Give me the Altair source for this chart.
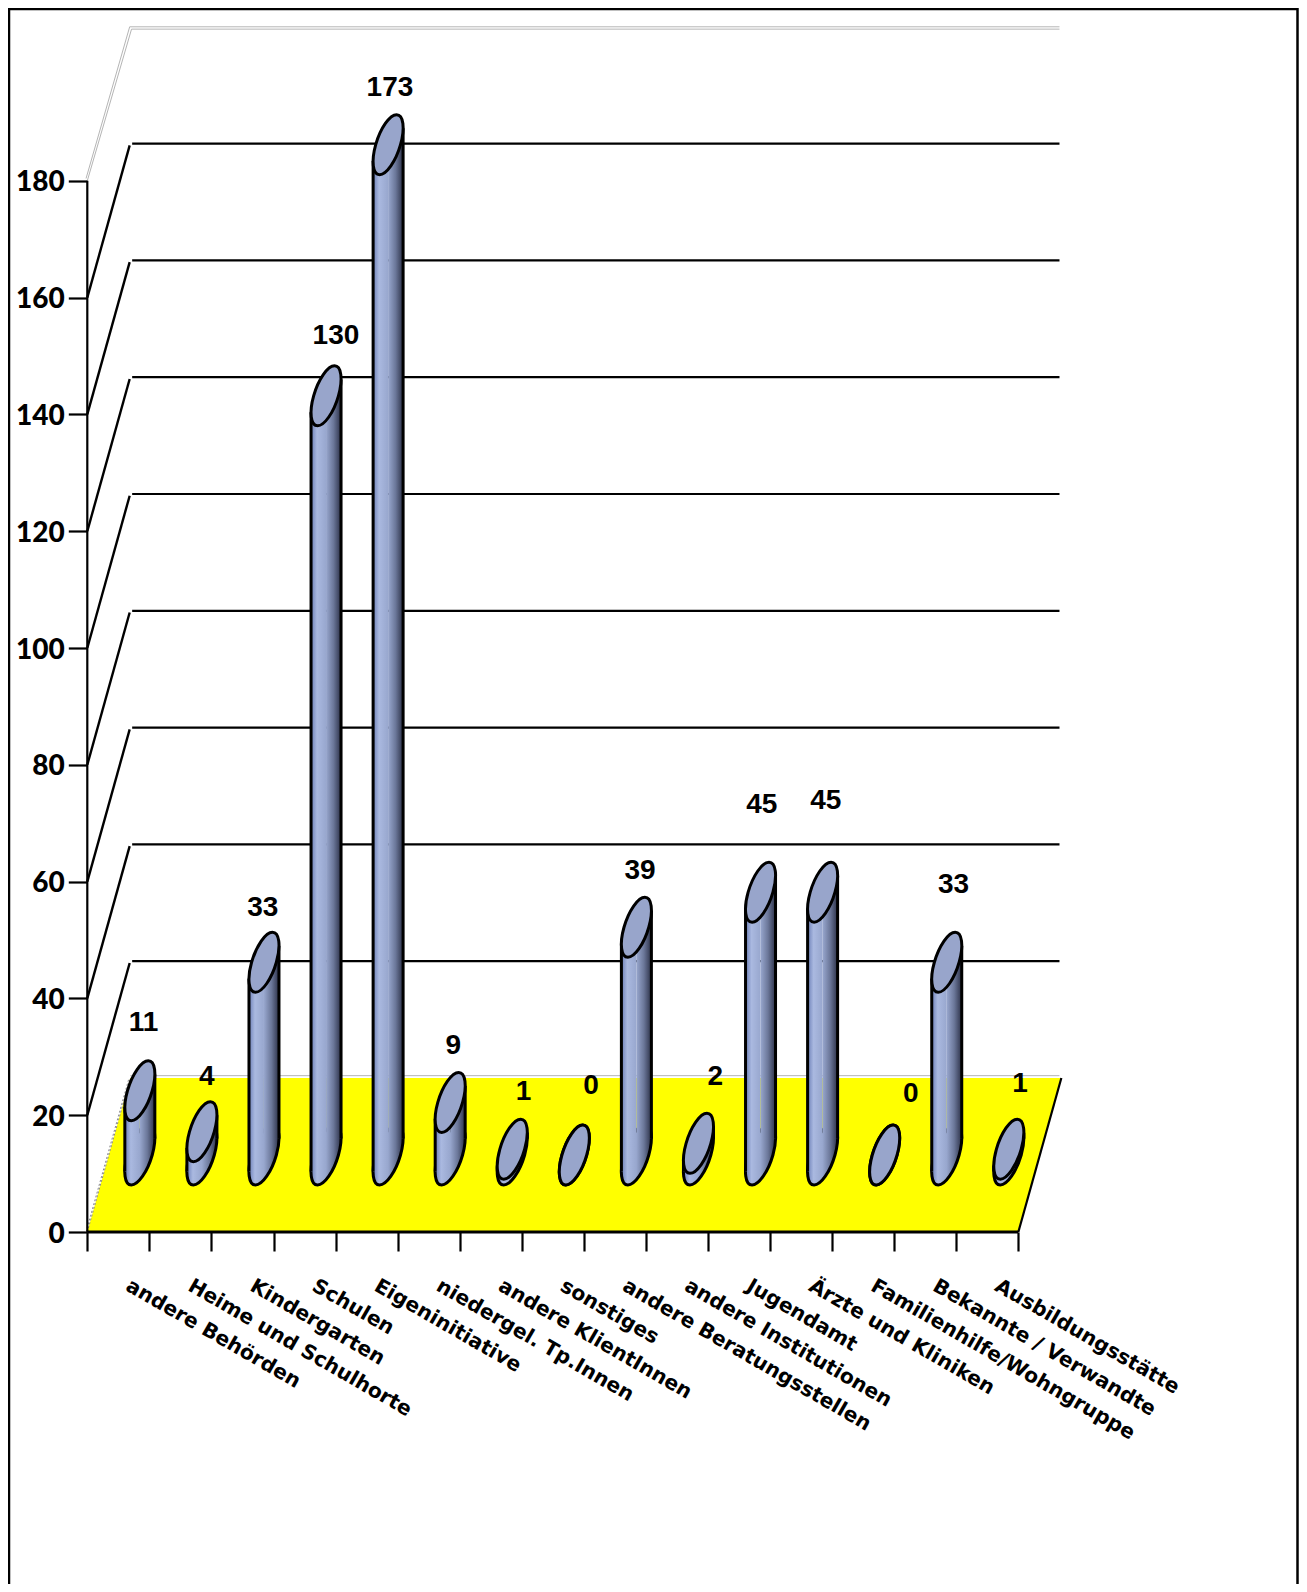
import altair as alt
import pandas as pd

categories = ["andere Behörden", "Heime und Schulhorte", "Kindergarten", "Schulen", "Eigeninitiative",
              "niedergel. Tp.Innen", "andere KlientInnen", "sonstiges", "andere Beratungsstellen",
              "andere Institutionen", "Jugendamt", "Ärzte und Kliniken", "Familienhilfe/Wohngruppe",
              "Bekannte / Verwandte", "Ausbildungsstätte"]
values = [11, 4, 33, 130, 173, 9, 1, 0, 39, 2, 45, 45, 0, 33, 1]
y_ticks = [0, 20, 40, 60, 80, 100, 120, 140, 160, 180]
x_ticks = list(range(16))

# manual nudges of the value labels, as placed in the original (category units / value units)
label_nudge_x = [0.06, 0.08, -0.02, 0.16, 0.03, 0.05, 0.18, 0.27, 0.06, 0.27, 0.02, 0.05, 0.42, 0.11, 0.18]
label_nudge_y = [11.6, 9.35, 9.3, 10.3, 9.7, 9.6, 9.8, 11.8, 9.6, 11.3, 14.9, 15.7, 10.4, 13.2, 11.1]

PX_X = 62.07
PX_Y = 5.84
W, H = 1291, 1576
X0, Y0 = 79.3, 1224.0
x_scale = alt.Scale(domain=[-X0 / PX_X, (W - X0) / PX_X], nice=False, zero=False)
y_scale = alt.Scale(domain=[(Y0 - H) / PX_Y, Y0 / PX_Y], nice=False, zero=False)

DX, DY = 43 / PX_X, 154 / PX_Y     # depth of the floor
HW = 15.0 / PX_X                   # half width of a column
TAN = 16.4 / PX_Y                  # tangent height of the tilted ellipse


def ellipse_path(u=12.4, d=8.5, h=30.0):
    k = 0.5523
    def p(a, b):
        return f"{u * a + d * b:.2f} {-h * b:.2f}"
    return ("M" + p(1, 0) + "C" + p(1, k) + " " + p(k, 1) + " " + p(0, 1)
            + "C" + p(-k, 1) + " " + p(-1, k) + " " + p(-1, 0)
            + "C" + p(-1, -k) + " " + p(-k, -1) + " " + p(0, -1)
            + "C" + p(k, -1) + " " + p(1, -k) + " " + p(1, 0) + "Z")


def grad(stops):
    return alt.LinearGradient(gradient="linear", x1=0, x2=1, y1=0, y2=0,
                              stops=[alt.GradientStop(color=c, offset=o) for o, c in stops])


full = [(0, "#6d80b8"), (0.2, "#aab9e0"), (0.5, "#98a7ce"), (0.75, "#6b7799"), (1, "#2c3148")]
left = [(0, "#6d80b8"), (0.4, "#aab9e0"), (1, "#98a7ce")]
right = [(0, "#98a7ce"), (0.5, "#6b7799"), (1, "#2c3148")]

bars = pd.DataFrame({"cat": categories, "v": values})
bars["cx"] = bars.index + 0.5 + DX / 2
bars["base"] = DY / 2
bars["top"] = bars["v"] + DY / 2
bars["xl"] = bars["cx"] - HW
bars["xr"] = bars["cx"] + HW
bars["ll_top"] = bars["top"] - TAN
bars["ll_bot"] = bars["base"] - TAN
bars["rr_top"] = bars["top"] + TAN
bars["rr_bot"] = bars["base"] + TAN
bars["tx"] = bars["cx"] + label_nudge_x
bars["ty"] = bars["top"] + label_nudge_y
bars["lx"] = bars.index + 0.5 + 0.23
bars["ly"] = -7.5


def X(f="x"):
    return alt.X(f + ":Q", scale=x_scale, axis=None)


def Y(f="y"):
    return alt.Y(f + ":Q", scale=y_scale, axis=None)


def rules(rows, **mark):
    df = pd.DataFrame(rows, columns=["x", "x2", "y", "y2"])
    return alt.Chart(df).mark_rule(**mark).encode(x=X(), x2="x2:Q", y=Y(), y2="y2:Q")


# floor
floor = alt.Chart(pd.DataFrame({"y": [0, DY], "x": [0, DX], "x2": [15, 15 + DX]})).mark_area(
    orient="horizontal", fill="#ffff00").encode(
    y=Y(), x=X(), x2="x2:Q")

# walls
inner = [v for v in y_ticks if 0 < v < 180]
grid = rules([(DX + 0.03, 15 + DX - 0.03, v + DY, v + DY) for v in inner], color="black", strokeWidth=2.2)
slants = rules([(0, DX - 0.01, v, v + DY - 0.3) for v in inner], color="black", strokeWidth=2.4)
grey = rules(
    [(DX - 0.01, 15 + DX - 0.03, 180 + DY, 180 + DY), (DX + 0.02, 15 + DX - 0.03, 180 + DY - 0.4, 180 + DY - 0.4),
     (-0.02, DX - 0.01, 180 + 0.4, 180 + DY), (0, DX + 0.02, 180, 180 + DY - 0.4),
     (DX, 15 + DX - 0.03, DY + 0.4, DY + 0.4)],
    color="#b5b5b5", strokeWidth=1)
left_floor = rules([(0, DX, 0, DY), (-0.02, DX - 0.02, 0, DY)], color="#8a8a8a", strokeWidth=1, strokeDash=[2, 2])
right_floor = rules([(15, 15 + DX, 0, DY)], color="black", strokeWidth=2.2)
front = rules([(0, 15, 0, 0)], color="black", strokeWidth=2.8)
y_line = rules([(0, 0, 0, 180)], color="black", strokeWidth=2.2)

# page frame
FX = (W - 1.5 - X0) / PX_X
frame = rules(
    [(-X0 / PX_X + 1 / PX_X, -X0 / PX_X + 1 / PX_X, (Y0 - H) / PX_Y, Y0 / PX_Y),
     (-X0 / PX_X, FX, (Y0 - 1) / PX_Y, (Y0 - 1) / PX_Y),
     (FX, FX, (Y0 - H) / PX_Y, Y0 / PX_Y)],
    color="black", strokeWidth=2.5)

# real axes, pulled into the plot area
ticks = pd.DataFrame({"x": x_ticks, "y": [0] * len(x_ticks)})
x_axis = alt.Chart(ticks).mark_point(opacity=0).encode(
    x=alt.X("x:Q", scale=x_scale,
            axis=alt.Axis(values=x_ticks, labels=False, title=None, domain=False, grid=False,
                          tickSize=19, tickWidth=2.2, tickColor="black", offset=-(H - Y0))),
    y=alt.Y("y:Q", scale=y_scale, axis=alt.Axis(
        values=y_ticks, title=None, domain=False, grid=False, tickSize=19, tickWidth=2.2,
        tickColor="black", offset=-X0, labelFont="Lato", labelFontWeight=900, labelFontSize=28,
        labelColor="black", labelPadding=4, labelOffset=2))
)

column = alt.Chart(bars)
bottom = column.mark_point(shape=ellipse_path(), filled=True, fill=grad(full), stroke="black",
                           strokeWidth=3, size=4, opacity=1).encode(x=X("cx"), y=Y("base"))
body_l = column.mark_rect(fill=grad(left), strokeWidth=0).encode(x=X("xl"), x2="cx:Q", y=Y("ll_top"), y2="ll_bot:Q")
body_r = column.mark_rect(fill=grad(right), strokeWidth=0).encode(x=X("cx"), x2="xr:Q", y=Y("rr_top"), y2="rr_bot:Q")
side_l = column.mark_rule(color="black", strokeWidth=3).encode(x=X("xl"), y=Y("ll_top"), y2="ll_bot:Q")
side_r = column.mark_rule(color="black", strokeWidth=3).encode(x=X("xr"), y=Y("rr_top"), y2="rr_bot:Q")
top = column.mark_point(shape=ellipse_path(), filled=True, fill="#98a5cb", stroke="black",
                        strokeWidth=3, size=4, opacity=1).encode(x=X("cx"), y=Y("top"))
value_labels = column.mark_text(font="Liberation Sans", fontWeight="bold", fontSize=28, color="black",
                                align="center", baseline="middle").encode(
    x=X("tx"), y=Y("ty"), text="v:Q")
cat_labels = column.mark_text(font="DejaVu Sans", fontWeight="bold", fontSize=20.3, color="black",
                              align="left", baseline="top", angle=30).encode(
    x=X("lx"), y=Y("ly"), text="cat:N")

chart = alt.layer(
    x_axis, floor, grey, grid, slants, left_floor, right_floor, front, y_line,
    bottom, body_l, body_r, side_l, side_r, top, value_labels, cat_labels, frame
).resolve_axis(x="independent", y="independent").properties(
    width=W, height=H, padding=0, autosize=alt.AutoSizeParams(type="none"), background="white"
).configure_view(strokeWidth=0)

chart.save("out.html", embed_options={"renderer": "svg", "actions": False})
